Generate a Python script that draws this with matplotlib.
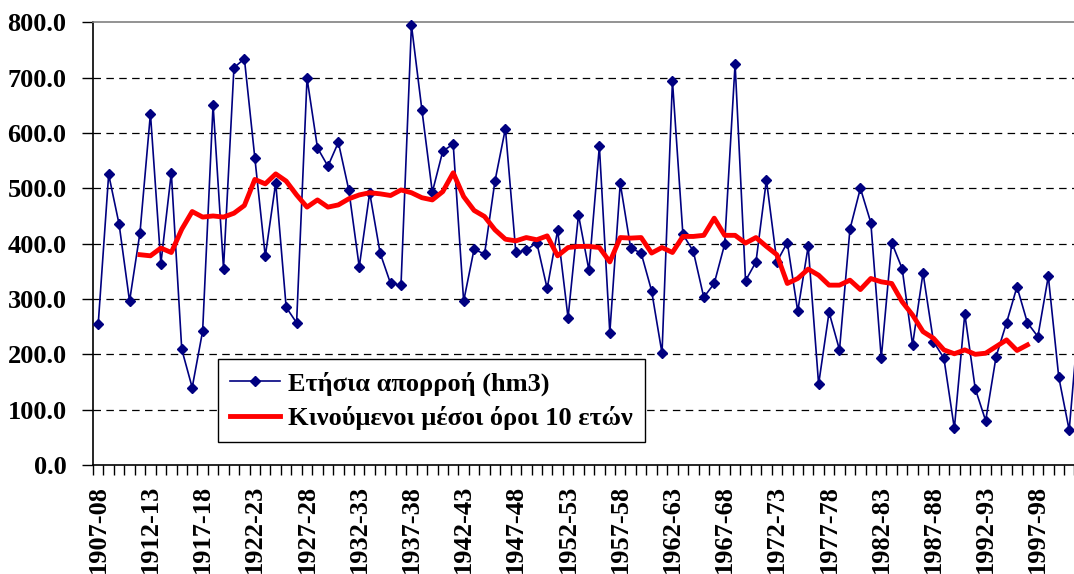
import matplotlib
matplotlib.use("Agg")
import matplotlib.pyplot as plt
import numpy as np
from matplotlib.ticker import FixedLocator

# ── Data ─────────────────────────────────────────────────────────────────────

first_year = 1907
runoff = [
    255, 525, 435, 296, 420, 635, 364, 528, 209, 140,
    242, 651, 355, 718, 734, 555, 377, 510, 285, 257,
    699, 573, 540, 583, 497, 358, 492, 383, 328, 325,
    795, 642, 493, 567, 580, 296, 390, 381, 513, 608,
    384, 388, 402, 319, 424, 266, 452, 352, 576, 239,
    509, 392, 383, 315, 202, 694, 417, 386, 303, 328,
    399, 725, 333, 367, 515, 367, 402, 278, 395, 146,
    276, 208, 426, 500, 438, 193, 402, 355, 217, 347,
    223, 193, 66, 273, 138, 80, 196, 257, 322, 257,
    232, 341, 159, 63, 283,
]

# 10-year moving average, first value sits on the 5th season (1911-12)
ma_offset = 4
moving_avg = [
    380, 378, 392, 384, 426, 458, 448, 450, 448, 455,
    469, 516, 508, 526, 513, 488, 466, 479, 466, 470,
    481, 488, 492, 490, 487, 497, 492, 483, 479, 494,
    528, 485, 460, 449, 425, 408, 405, 411, 407, 414,
    378, 393, 395, 395, 393, 367, 411, 410, 411, 383,
    393, 384, 413, 413, 415, 446, 415, 415, 401, 411,
    395, 380, 328, 337, 354, 343, 325, 325, 334, 317,
    337, 331, 328, 295, 271, 241, 229, 208, 201, 208,
    200, 202, 214, 226, 207, 217,
]

seasons = [f"{y}-{(y + 1) % 100:02d}" for y in range(first_year, first_year + len(runoff))]
label_every = 5
y_ticks = [0, 100, 200, 300, 400, 500, 600, 700, 800]

label_runoff = "Ετήσια απορροή (hm3)"
label_ma = "Κινούμενοι μέσοι όροι 10 ετών"

NAVY = "#000080"
RED = "#FF0000"
FONT = "Liberation Serif"

plt.rcParams["font.family"] = FONT
plt.rcParams["font.weight"] = "bold"

# ── Figure ────────────────────────────────────────────────────────────────────

fig = plt.figure(figsize=(10.74, 5.74), dpi=100)
# plot area runs past the right edge, like the cropped original
ax = fig.add_axes([0.0866, 0.1899, 0.9235, 0.7713])

x = np.arange(len(runoff))
ax.plot(x, runoff, color=NAVY, linewidth=1.2, marker="D", markersize=5.6,
        markerfacecolor=NAVY, markeredgecolor=NAVY, label=label_runoff,
        zorder=3, clip_on=False)
x_ma = np.arange(ma_offset, ma_offset + len(moving_avg))
ax.plot(x_ma, moving_avg, color=RED, linewidth=3.5, label=label_ma,
        solid_joinstyle="round", zorder=4)

ax.set_xlim(-0.5, len(runoff) - 0.5)
ax.set_ylim(y_ticks[0], y_ticks[-1])

# y axis
ax.set_yticks(y_ticks)
ax.set_yticklabels([f"{v:.1f}" for v in y_ticks])
ax.tick_params(axis="y", direction="out", length=8, width=1, pad=11,
               labelsize=19)
for v in y_ticks[1:-1]:
    gl = ax.axhline(v, color="black", linewidth=0.9, zorder=1)
    gl.set_dashes((6.0, 4.3))

# x axis: labels every 5 seasons, small ticks between categories
ax.xaxis.set_major_locator(FixedLocator(x[::label_every]))
ax.set_xticklabels(seasons[::label_every], rotation=90)
ax.xaxis.set_minor_locator(FixedLocator(np.arange(-0.5, len(runoff), 1)))
ax.tick_params(axis="x", which="major", length=0, pad=14.5, labelsize=19)
ax.tick_params(axis="x", which="minor", direction="out", length=7, width=1)

ax.spines["right"].set_visible(False)
ax.spines["top"].set_color("#808080")
ax.spines["top"].set_linewidth(1.2)
ax.spines["left"].set_linewidth(1.2)
ax.spines["bottom"].set_linewidth(1.2)

leg = ax.legend(loc="lower left", bbox_to_anchor=(0.126, 0.052),
                borderaxespad=0, fancybox=False, framealpha=1,
                edgecolor="black", fontsize=19, handlelength=1.9,
                handletextpad=0.3, borderpad=0.45, labelspacing=0.4)
leg.get_frame().set_linewidth(1.0)

fig.savefig("out.png", dpi=100)
